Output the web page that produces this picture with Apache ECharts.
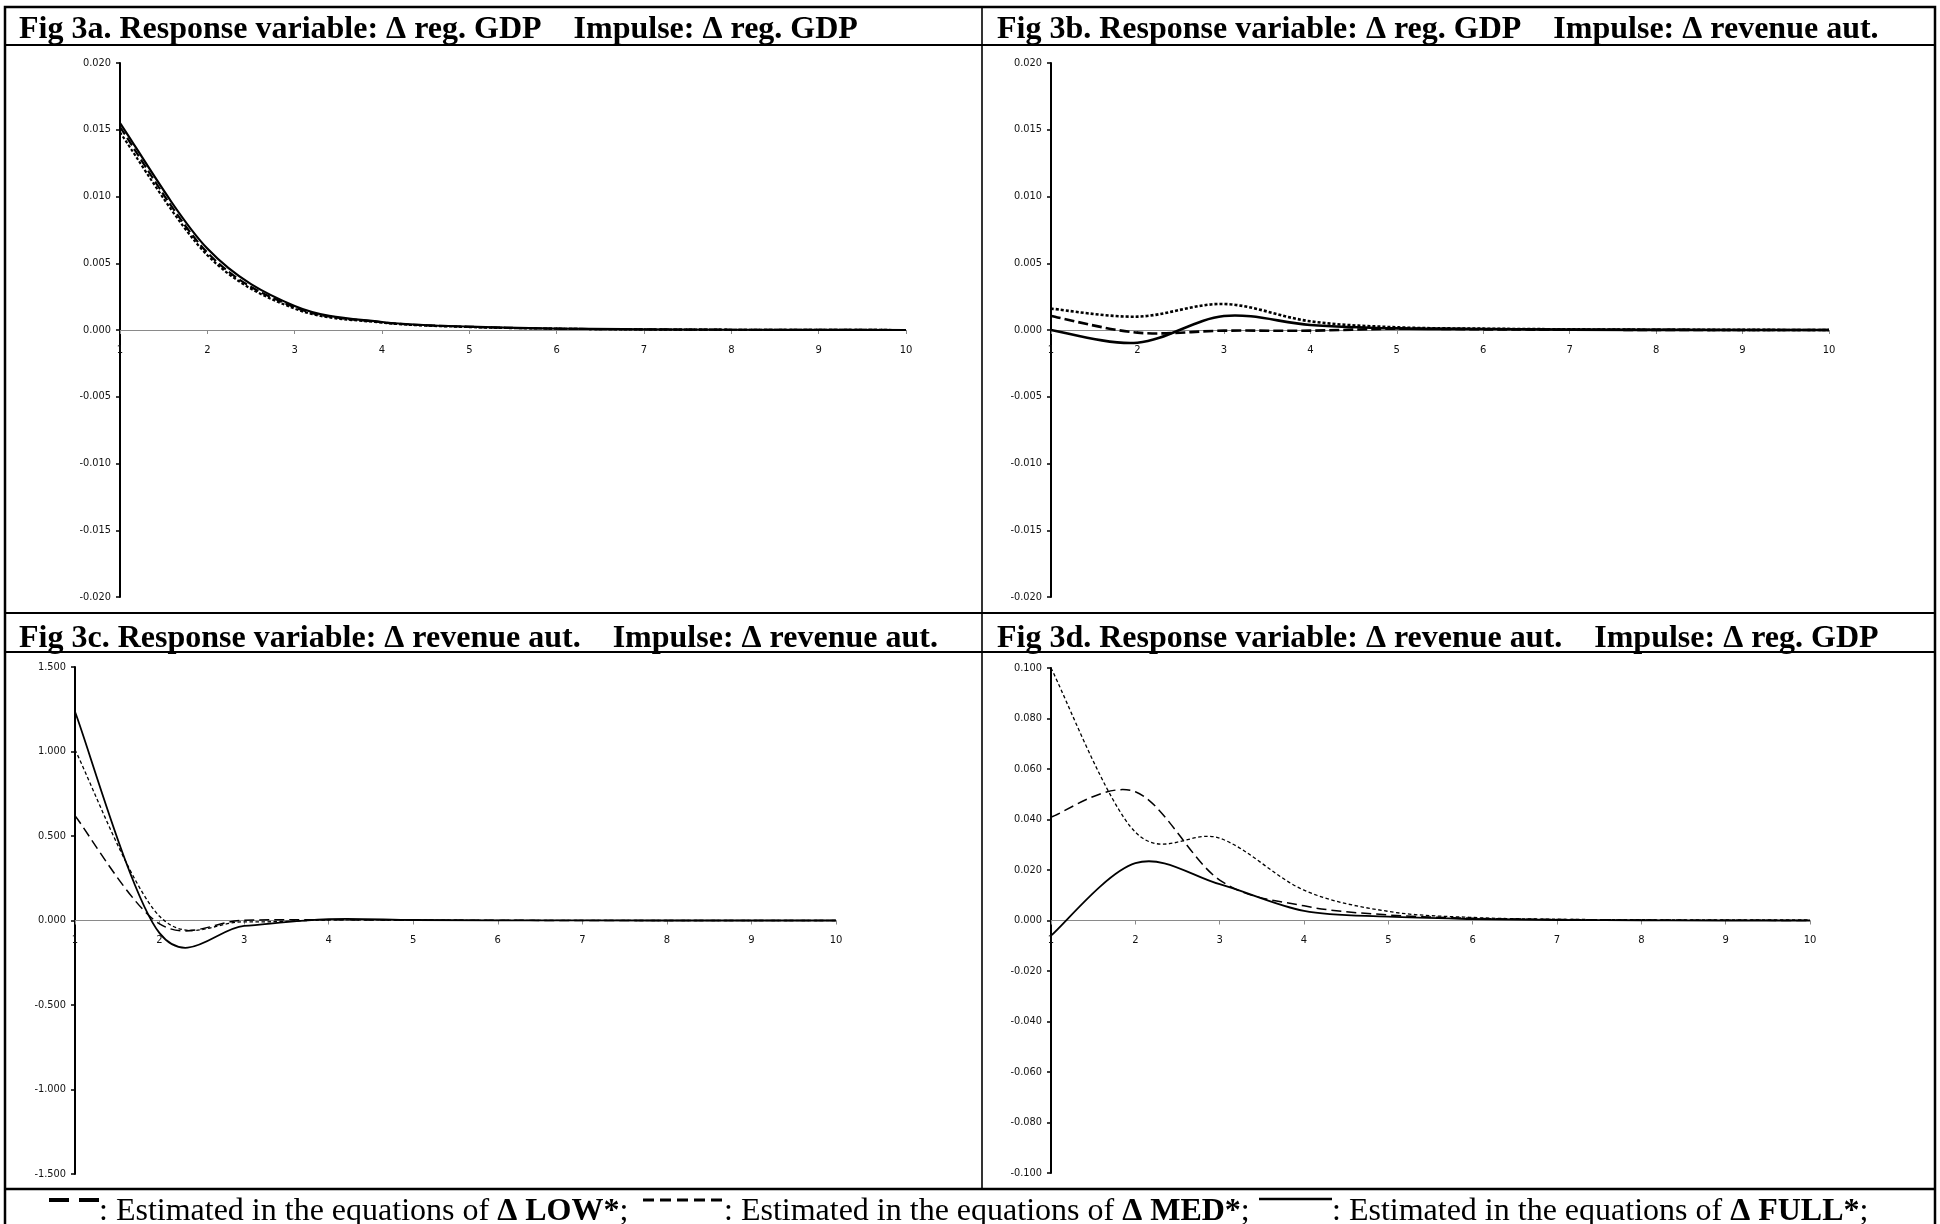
<!DOCTYPE html>
<html>
<head>
<meta charset="utf-8">
<script src="https://cdn.jsdelivr.net/npm/echarts@6/dist/echarts.min.js"></script>
<style>
html,body{margin:0;padding:0;background:#fff;}
#c{width:1940px;height:1224px;}
</style>
</head>
<body>
<div id="c"></div>
<script>
// ---------------- DATA ----------------
const periods = ['1','2','3','4','5','6','7','8','9','10'];

const titles = [
  'Fig 3a. Response variable: \u0394 reg. GDP    Impulse: \u0394 reg. GDP',
  'Fig 3b. Response variable: \u0394 reg. GDP    Impulse: \u0394 revenue aut.',
  'Fig 3c. Response variable: \u0394 revenue aut.    Impulse: \u0394 revenue aut.',
  'Fig 3d. Response variable: \u0394 revenue aut.    Impulse: \u0394 reg. GDP'
];

// Fig 3a: response of reg. GDP to reg. GDP
const a_low  = [0.0152, 0.0058, 0.0017, 0.00058, 0.00024, 0.0001, 0.00005, 0.00002, 0.00001, 0];
const a_med  = [0.0148, 0.0056, 0.0016, 0.00055, 0.00022, 0.0001, 0.00004, 0.00002, 0.00001, 0];
const a_full = [0.0155, 0.0061, 0.0018, 0.0006, 0.00025, 0.0001, 0.00005, 0.00002, 0.00001, 0];
// Fig 3b: response of reg. GDP to revenue aut.
const b_low  = [0.00105, -0.0002, -0.00005, -0.00005, 0.0001, 0.00005, 0.00002, 0.00001, 0, 0];
const b_med  = [0.0016, 0.0010, 0.00195, 0.00065, 0.0002, 0.0001, 0.00005, 0.00002, 0.00001, 0];
const b_full = [0.0000, -0.00095, 0.00105, 0.00038, 0.00012, 0.00008, 0.00003, 0.00001, 0, 0];
// Fig 3c: response of revenue aut. to revenue aut.
const c_low  = [0.62, -0.02, 0.002, 0.004, 0.002, 0.001, 0.0005, 0, 0, 0];
const c_med  = [1.01, 0.025, -0.008, 0.003, 0.002, 0.001, 0.0005, 0, 0, 0];
const c_full = [1.235, -0.075, -0.032, 0.008, 0.003, 0.001, 0.0005, 0, 0, 0];
// Fig 3d: response of revenue aut. to reg. GDP
const d_low  = [0.041, 0.051, 0.016, 0.0058, 0.0022, 0.0009, 0.0004, 0.0002, 0.0001, 0];
const d_med  = [0.100, 0.035, 0.0326, 0.012, 0.0036, 0.0012, 0.0005, 0.0003, 0.0002, 0.0002];
const d_full = [-0.006, 0.0227, 0.0144, 0.0038, 0.0015, 0.0006, 0.0002, 0.0001, 0, 0];

// y-axis ranges (min, max, step)
const gdpRange = [-0.020, 0.020, 0.005];
const revRange = [-1.500, 1.500, 0.500];
const crossRange = [-0.100, 0.100, 0.020];

const legendNames = ['\u0394 LOW*', '\u0394 MED*', '\u0394 FULL*'];
const legendText = ': Estimated in the equations of ';

// ---------------- STYLE / LAYOUT ----------------
const serif = '"Liberation Serif", "Times New Roman", serif';
const tickFont = '"DejaVu Sans", sans-serif';

const heavy = [
  {width: 2.6, dash: [10, 4]},
  {width: 2.6, dash: [3, 2]},
  {width: 2.6, dash: null}
];
const light = [
  {width: 1.5, dash: [10, 5]},
  {width: 1.3, dash: [3.5, 2.5]},
  {width: 1.8, dash: null}
];

const panels = [
  {grid: {left: 120, top: 63, width: 786, height: 534}, range: gdpRange, data: [a_low, a_med, a_full], st: [
    {width: 2.2, dash: [9, 4]}, {width: 2.2, dash: [3, 2]}, {width: 2.2, dash: null}]},
  {grid: {left: 1051, top: 63, width: 778, height: 534}, range: gdpRange, data: [b_low, b_med, b_full], st: heavy},
  {grid: {left: 75, top: 667, width: 761, height: 507}, range: revRange, data: [c_low, c_med, c_full], st: light},
  {grid: {left: 1051, top: 668, width: 759, height: 505}, range: crossRange, data: [d_low, d_med, d_full], st: light}
];

const fmt = v => (Math.abs(v) < 1e-9 ? 0 : v).toFixed(3);

// Excel-style smoothed line (cardinal spline through the points)
function smoothPath(pts) {
  const n = pts.length;
  let s = 'M' + pts[0][0] + ' ' + pts[0][1];
  for (let i = 0; i < n - 1; i++) {
    const p0 = pts[Math.max(i - 1, 0)], p1 = pts[i], p2 = pts[i + 1], p3 = pts[Math.min(i + 2, n - 1)];
    const c1x = p1[0] + (p2[0] - p0[0]) / 6, c1y = p1[1] + (p2[1] - p0[1]) / 6;
    const c2x = p2[0] - (p3[0] - p1[0]) / 6, c2y = p2[1] - (p3[1] - p1[1]) / 6;
    s += ' C' + c1x + ' ' + c1y + ' ' + c2x + ' ' + c2y + ' ' + p2[0] + ' ' + p2[1];
  }
  return s;
}

const grids = [], xAxes = [], yAxes = [], series = [];
panels.forEach((p, i) => {
  grids.push(Object.assign({containLabel: false}, p.grid));
  const zeroOffset = -p.grid.height * (0 - p.range[0]) / (p.range[1] - p.range[0]);
  xAxes.push({
    type: 'category', gridIndex: i, data: periods, boundaryGap: false, position: 'bottom', offset: zeroOffset,
    axisLine: {onZero: false, lineStyle: {color: '#8a8a8a', width: 1.2}},
    axisTick: {show: true, length: 4, lineStyle: {color: '#8a8a8a', width: 1}},
    axisLabel: {interval: 0, margin: 15, fontSize: 10, fontFamily: tickFont, color: '#111'},
    splitLine: {show: false}
  });
  yAxes.push({
    type: 'value', gridIndex: i, min: p.range[0], max: p.range[1], interval: p.range[2],
    axisLine: {show: true, onZero: false, lineStyle: {color: '#000', width: 2}},
    axisTick: {show: true, length: 4, lineStyle: {color: '#000', width: 1.5}},
    axisLabel: {margin: 9, fontSize: 9.8, fontFamily: tickFont, color: '#111', formatter: fmt},
    splitLine: {show: false}
  });
  p.data.forEach((d, k) => {
    const st = p.st[k];
    series.push({
      type: 'custom', coordinateSystem: 'cartesian2d', xAxisIndex: i, yAxisIndex: i,
      data: d.map((v, j) => [j, v]), clip: false, silent: true, z: 3 + k,
      renderItem: (params, api) => {
        if (params.dataIndex !== 0) return null;
        const pts = d.map((v, j) => api.coord([j, v]));
        return {
          type: 'path', shape: {pathData: smoothPath(pts)},
          style: {fill: 'none', stroke: '#000', lineWidth: st.width, lineDash: st.dash, lineCap: 'butt', lineJoin: 'round'}
        };
      }
    });
  });
});

// table borders
const L = 5, R = 1935, T = 7, B = 1240, MID = 982;
const graphic = [
  {type: 'rect', shape: {x: L, y: T, width: R - L, height: B - T}, style: {fill: 'none', stroke: '#000', lineWidth: 2.5}},
  {type: 'line', shape: {x1: L, y1: 45, x2: R, y2: 45}, style: {stroke: '#000', lineWidth: 2}},
  {type: 'line', shape: {x1: L, y1: 613, x2: R, y2: 613}, style: {stroke: '#000', lineWidth: 2}},
  {type: 'line', shape: {x1: L, y1: 652, x2: R, y2: 652}, style: {stroke: '#000', lineWidth: 2}},
  {type: 'line', shape: {x1: L, y1: 1189, x2: R, y2: 1189}, style: {stroke: '#000', lineWidth: 2.5}},
  {type: 'line', shape: {x1: MID, y1: T, x2: MID, y2: 1189}, style: {stroke: '#000', lineWidth: 1.6}}
];

// panel titles
const titlePos = [[19, 30], [997, 30], [19, 639], [997, 639]];
titles.forEach((t, i) => {
  graphic.push({type: 'text', x: titlePos[i][0], y: titlePos[i][1], style: {
    text: t, fill: '#000', fontFamily: serif, fontWeight: 'bold', fontSize: 32,
    align: 'left', verticalAlign: 'middle'}});
});

// legend row
const legTextX = [99, 724, 1332];
legendNames.forEach((n, i) => {
  graphic.push({type: 'text', x: legTextX[i], y: 1212, style: {
    text: '{r|' + legendText + '}{b|' + n + '}{r|;}',
    rich: {
      r: {fontFamily: serif, fontSize: 32, fill: '#000'},
      b: {fontFamily: serif, fontSize: 32, fontWeight: 'bold', fill: '#000'}
    },
    align: 'left', verticalAlign: 'middle'}});
});
graphic.push({type: 'line', shape: {x1: 49, y1: 1200, x2: 99, y2: 1200}, style: {stroke: '#000', lineWidth: 4, lineDash: [20, 10]}});
graphic.push({type: 'line', shape: {x1: 643, y1: 1200, x2: 724, y2: 1200}, style: {stroke: '#000', lineWidth: 3, lineDash: [11, 6]}});
graphic.push({type: 'line', shape: {x1: 1259, y1: 1199, x2: 1332, y2: 1199}, style: {stroke: '#000', lineWidth: 2.5}});

const chart = echarts.init(document.getElementById('c'), null, {renderer: 'canvas', width: 1940, height: 1224});
chart.setOption({
  animation: false,
  backgroundColor: '#fff',
  grid: grids,
  xAxis: xAxes,
  yAxis: yAxes,
  series: series,
  graphic: graphic
});
</script>
</body>
</html>
